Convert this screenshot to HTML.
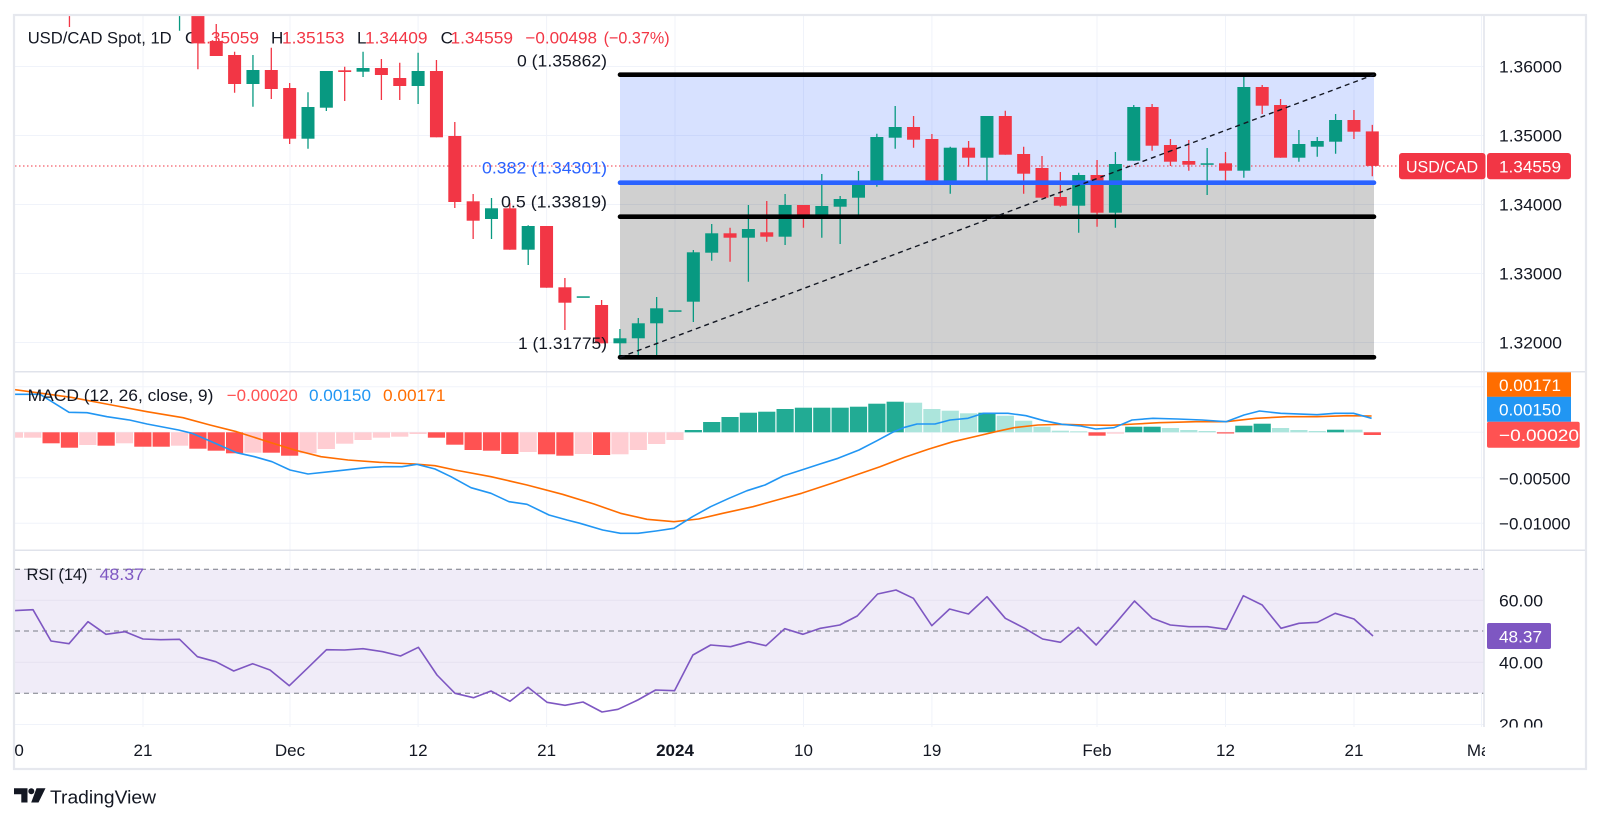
<!DOCTYPE html>
<html><head><meta charset="utf-8"><style>
html,body{margin:0;padding:0;background:#fff;}
svg{display:block;font-family:"Liberation Sans",Arial,sans-serif;}
</style></head><body>
<svg width="1601" height="823" viewBox="0 0 1601 823" xmlns="http://www.w3.org/2000/svg">
<defs>
<clipPath id="cp"><rect x="15" y="15" width="1469" height="356"/></clipPath>
<clipPath id="cm"><rect x="15" y="372.5" width="1469" height="177"/></clipPath>
<clipPath id="cr"><rect x="15" y="551" width="1469" height="176"/></clipPath>
<clipPath id="cd"><rect x="15" y="729" width="1470" height="38"/></clipPath>
<clipPath id="cra"><rect x="1485" y="551" width="100" height="176.5"/></clipPath>
</defs>
<rect width="1601" height="823" fill="#fff"/>

<!-- vertical grid -->
<g stroke="#f0f3fa" stroke-width="1">
<path d="M143 15V727M290 15V727M418.1 15V727M546.6 15V727M675 15V727M803.5 15V727M931.9 15V727M1097 15V727M1225.5 15V727M1354 15V727M1481.5 15V727"/>
</g>
<!-- horizontal grid -->
<g stroke="#f0f3fa" stroke-width="1">
<path d="M15 66.5H1484M15 135.5H1484M15 204.5H1484M15 273.5H1484M15 342.5H1484"/>
<path d="M15 386.8H1484M15 432.3H1484M15 477.8H1484M15 523.3H1484"/>
<path d="M15 600.3H1484M15 662.3H1484M15 724.5H1484"/>
</g>

<!-- PRICE PANE -->
<g clip-path="url(#cp)">
<rect x="620" y="74.7" width="754" height="108" fill="rgb(41,98,255)" fill-opacity="0.19"/>
<rect x="620" y="182.7" width="754" height="174.6" fill="#000" fill-opacity="0.185"/>
<line x1="15" y1="166" x2="1399" y2="166" stroke="#f23645" stroke-width="1" stroke-dasharray="1.5 2.5"/>
</g>

<!-- header text (under candles) -->
<g font-size="17" fill="#131722">
<text x="27.7" y="43.5" textLength="144" lengthAdjust="spacingAndGlyphs">USD/CAD Spot, 1D</text>
<text x="185" y="43.5">O</text>
<text x="196.5" y="43.5" fill="#f23645" textLength="62.5" lengthAdjust="spacingAndGlyphs">1.35059</text>
<text x="271" y="43.5">H</text>
<text x="282" y="43.5" fill="#f23645" textLength="62.5" lengthAdjust="spacingAndGlyphs">1.35153</text>
<text x="357" y="43.5">L</text>
<text x="365" y="43.5" fill="#f23645" textLength="62.5" lengthAdjust="spacingAndGlyphs">1.34409</text>
<text x="440.6" y="43.5">C</text>
<text x="450.5" y="43.5" fill="#f23645" textLength="62.5" lengthAdjust="spacingAndGlyphs">1.34559</text>
<text x="525.4" y="43.5" fill="#f23645" textLength="71.6" lengthAdjust="spacingAndGlyphs">−0.00498</text>
<text x="603.6" y="43.5" fill="#f23645" textLength="66" lengthAdjust="spacingAndGlyphs">(−0.37%)</text>
</g>

<g clip-path="url(#cp)">
<!-- green candles -->
<path stroke="#089981" stroke-width="1.3" fill="none" d="M179.55 10V30.7M252.95 55V106.7M308 92.3V148.7M326.35 71V111M363.05 51.7V77M418.1 52.7V104M491.5 198V239M528.2 225.3V265M619.95 329V358M638.3 318V356.7M656.65 297V358M693.35 250V322M711.7 224V260.7M748.4 205V281.7M785.1 194V245M821.8 174V237.7M840.15 196V244M858.5 171V216.7M876.85 133.7V186.7M895.2 106V148.7M950.25 146.7V193.7M986.95 116V183.3M1078.7 172.7V232.7M1115.4 152V227.7M1133.75 105V160.7M1207.15 148V195M1243.85 75V177.7M1298.9 130V161.7M1317.25 137V156.7M1335.6 114V153.7"/>
<g fill="#089981">
<rect x="246.45" y="70" width="13" height="14"/>
<rect x="301.5" y="107" width="13" height="31.7"/>
<rect x="319.85" y="71" width="13" height="36.7"/>
<rect x="356.55" y="68" width="13" height="3.7"/>
<rect x="411.6" y="71" width="13" height="15"/>
<rect x="485" y="208.3" width="13" height="10.7"/>
<rect x="521.7" y="226" width="13" height="23.7"/>
<rect x="576.75" y="296.3" width="13" height="1.5"/>
<rect x="613.45" y="338.3" width="13" height="5"/>
<rect x="631.8" y="323.3" width="13" height="15"/>
<rect x="650.15" y="308.3" width="13" height="15"/>
<rect x="668.5" y="310.3" width="13" height="1.5"/>
<rect x="686.85" y="252.3" width="13" height="49.4"/>
<rect x="705.2" y="233.3" width="13" height="19.4"/>
<rect x="741.9" y="229" width="13" height="8.7"/>
<rect x="778.6" y="205" width="13" height="31.7"/>
<rect x="815.3" y="206" width="13" height="13"/>
<rect x="833.65" y="199" width="13" height="7.7"/>
<rect x="852" y="183.3" width="13" height="14.4"/>
<rect x="870.35" y="137" width="13" height="47"/>
<rect x="888.7" y="127" width="13" height="10.7"/>
<rect x="943.75" y="147.7" width="13" height="37.3"/>
<rect x="980.45" y="116" width="13" height="41.7"/>
<rect x="1072.2" y="175" width="13" height="30.7"/>
<rect x="1108.9" y="164" width="13" height="48.7"/>
<rect x="1127.25" y="107" width="13" height="53.7"/>
<rect x="1200.65" y="163.3" width="13" height="1.5"/>
<rect x="1237.35" y="87" width="13" height="83.7"/>
<rect x="1292.4" y="144" width="13" height="13.7"/>
<rect x="1310.75" y="141" width="13" height="5.7"/>
<rect x="1329.1" y="120" width="13" height="21.7"/>
</g>
<!-- red candles -->
<path stroke="#f23645" stroke-width="1.3" fill="none" d="M69.45 10V27M197.9 10V69.3M216.25 24V56M234.6 51.7V92.7M271.3 47.7V99M289.65 83V144M344.7 66.7V101M381.4 59V100M399.75 62.7V100M436.45 60V137.3M454.8 122V208M473.15 194V239M509.85 202.7V249.7M546.55 226V287.7M564.9 278V330M601.6 300V343.3M730.05 227.7V261.7M766.75 201V241.7M803.45 205V227.7M913.55 116V147.7M931.9 134V183.7M968.6 141V166.7M1005.3 110.7V154.7M1023.65 146.7V193.7M1042 156V197.7M1060.35 172V206.7M1097.05 160V226.7M1152.1 104V150.7M1170.45 139V166M1188.8 140V170.7M1225.5 152V182.7M1262.2 85V114M1280.55 99V157.7M1353.95 110V139M1372.3 124.9V176.3"/>
<g fill="#f23645">
<rect x="191.4" y="0" width="13" height="43.3"/>
<rect x="209.75" y="41" width="13" height="15"/>
<rect x="228.1" y="55" width="13" height="29"/>
<rect x="264.8" y="70" width="13" height="19"/>
<rect x="283.15" y="88" width="13" height="50.7"/>
<rect x="338.2" y="70.3" width="13" height="1.7"/>
<rect x="374.9" y="68" width="13" height="7"/>
<rect x="393.25" y="78" width="13" height="8"/>
<rect x="429.95" y="71" width="13" height="66.3"/>
<rect x="448.3" y="136" width="13" height="66"/>
<rect x="466.65" y="201.3" width="13" height="19.4"/>
<rect x="503.35" y="208.3" width="13" height="41.4"/>
<rect x="540.05" y="226" width="13" height="61.7"/>
<rect x="558.4" y="287.3" width="13" height="15.4"/>
<rect x="595.1" y="305" width="13" height="38.3"/>
<rect x="723.55" y="233.3" width="13" height="4.4"/>
<rect x="760.25" y="232.3" width="13" height="4.4"/>
<rect x="796.95" y="205" width="13" height="14"/>
<rect x="907.05" y="127" width="13" height="12.7"/>
<rect x="925.4" y="139" width="13" height="44.7"/>
<rect x="962.1" y="147.7" width="13" height="10"/>
<rect x="998.8" y="116" width="13" height="38.7"/>
<rect x="1017.15" y="154" width="13" height="19.7"/>
<rect x="1035.5" y="168" width="13" height="29.7"/>
<rect x="1053.85" y="197" width="13" height="8.7"/>
<rect x="1090.55" y="175" width="13" height="37.7"/>
<rect x="1145.6" y="107" width="13" height="38.7"/>
<rect x="1163.95" y="145" width="13" height="16.7"/>
<rect x="1182.3" y="161" width="13" height="3.7"/>
<rect x="1219" y="163.3" width="13" height="7.4"/>
<rect x="1255.7" y="87" width="13" height="18.7"/>
<rect x="1274.05" y="105" width="13" height="52.7"/>
<rect x="1347.45" y="120" width="13" height="11.7"/>
<rect x="1365.8" y="131.4" width="13" height="34.5"/>
</g>
<!-- fib lines -->
<g stroke-linecap="round" stroke-width="4.6" fill="none">
<line x1="620" y1="74.7" x2="1374" y2="74.7" stroke="#000"/>
<line x1="620" y1="182.7" x2="1374" y2="182.7" stroke="#2962ff"/>
<line x1="620" y1="216.7" x2="1374" y2="216.7" stroke="#000"/>
<line x1="620" y1="357.3" x2="1374" y2="357.3" stroke="#000"/>
</g>
<line x1="620" y1="357.3" x2="1374" y2="74.7" stroke="#131722" stroke-width="1.4" stroke-dasharray="5 4"/>
</g>

<!-- fib labels -->
<g font-size="17" fill="#131722">
<text x="517" y="66.5" textLength="90" lengthAdjust="spacingAndGlyphs">0 (1.35862)</text>
<text x="482" y="173.5" fill="#2962ff" textLength="125" lengthAdjust="spacingAndGlyphs">0.382 (1.34301)</text>
<text x="501" y="207.5" textLength="106" lengthAdjust="spacingAndGlyphs">0.5 (1.33819)</text>
<text x="518" y="349" textLength="89" lengthAdjust="spacingAndGlyphs">1 (1.31775)</text>
</g>

<!-- MACD PANE -->
<g clip-path="url(#cm)">
<g fill="#ffcdd2">
<rect x="5.8" y="432.3" width="17.2" height="5.4"/>
<rect x="24.15" y="432.3" width="17.2" height="5.4"/>
<rect x="79.2" y="432.3" width="17.2" height="12.7"/>
<rect x="115.9" y="432.3" width="17.2" height="11"/>
<rect x="170.95" y="432.3" width="17.2" height="13.4"/>
<rect x="244.35" y="432.3" width="17.2" height="20.4"/>
<rect x="299.4" y="432.3" width="17.2" height="21"/>
<rect x="317.75" y="432.3" width="17.2" height="16.7"/>
<rect x="336.1" y="432.3" width="17.2" height="11.4"/>
<rect x="354.45" y="432.3" width="17.2" height="7.7"/>
<rect x="372.8" y="432.3" width="17.2" height="5.4"/>
<rect x="391.15" y="432.3" width="17.2" height="4.4"/>
<rect x="409.5" y="432.3" width="17.2" height="1.7"/>
<rect x="519.6" y="432.3" width="17.2" height="19.7"/>
<rect x="574.65" y="432.3" width="17.2" height="21.7"/>
<rect x="611.35" y="432.3" width="17.2" height="22"/>
<rect x="629.7" y="432.3" width="17.2" height="17.7"/>
<rect x="648.05" y="432.3" width="17.2" height="11.7"/>
<rect x="666.4" y="432.3" width="17.2" height="7.7"/>
<rect x="1106.8" y="432.3" width="17.2" height="1.4"/>
</g>
<g fill="#ff5252">
<rect x="42.5" y="432.3" width="17.2" height="11"/>
<rect x="60.85" y="432.3" width="17.2" height="15.4"/>
<rect x="97.55" y="432.3" width="17.2" height="13.4"/>
<rect x="134.25" y="432.3" width="17.2" height="14.4"/>
<rect x="152.6" y="432.3" width="17.2" height="14.4"/>
<rect x="189.3" y="432.3" width="17.2" height="16.4"/>
<rect x="207.65" y="432.3" width="17.2" height="18.4"/>
<rect x="226" y="432.3" width="17.2" height="21"/>
<rect x="262.7" y="432.3" width="17.2" height="20.4"/>
<rect x="281.05" y="432.3" width="17.2" height="23.4"/>
<rect x="427.85" y="432.3" width="17.2" height="5.4"/>
<rect x="446.2" y="432.3" width="17.2" height="12.4"/>
<rect x="464.55" y="432.3" width="17.2" height="17.7"/>
<rect x="482.9" y="432.3" width="17.2" height="18.4"/>
<rect x="501.25" y="432.3" width="17.2" height="21.7"/>
<rect x="537.95" y="432.3" width="17.2" height="22"/>
<rect x="556.3" y="432.3" width="17.2" height="23.4"/>
<rect x="593" y="432.3" width="17.2" height="22.7"/>
<rect x="1088.45" y="432.3" width="17.2" height="3.4"/>
<rect x="1216.9" y="432.3" width="17.2" height="1.2"/>
<rect x="1363.7" y="432.3" width="17.2" height="2.7"/>
</g>
<g fill="#22ab94">
<rect x="684.75" y="430" width="17.2" height="2.3"/>
<rect x="703.1" y="422" width="17.2" height="10.3"/>
<rect x="721.45" y="417" width="17.2" height="15.3"/>
<rect x="739.8" y="412.7" width="17.2" height="19.6"/>
<rect x="758.15" y="411.7" width="17.2" height="20.6"/>
<rect x="776.5" y="409" width="17.2" height="23.3"/>
<rect x="794.85" y="407.7" width="17.2" height="24.6"/>
<rect x="813.2" y="407.7" width="17.2" height="24.6"/>
<rect x="831.55" y="407.7" width="17.2" height="24.6"/>
<rect x="849.9" y="406.7" width="17.2" height="25.6"/>
<rect x="868.25" y="403.7" width="17.2" height="28.6"/>
<rect x="886.6" y="401.7" width="17.2" height="30.6"/>
<rect x="978.35" y="412.7" width="17.2" height="19.6"/>
<rect x="1125.15" y="426.7" width="17.2" height="5.6"/>
<rect x="1143.5" y="426.7" width="17.2" height="5.6"/>
<rect x="1235.25" y="425.7" width="17.2" height="6.6"/>
<rect x="1253.6" y="423.7" width="17.2" height="8.6"/>
<rect x="1327" y="429.7" width="17.2" height="2.6"/>
</g>
<g fill="#ace5dc">
<rect x="904.95" y="402.7" width="17.2" height="29.6"/>
<rect x="923.3" y="409" width="17.2" height="23.3"/>
<rect x="941.65" y="410.7" width="17.2" height="21.6"/>
<rect x="960" y="413.3" width="17.2" height="19"/>
<rect x="996.7" y="415.7" width="17.2" height="16.6"/>
<rect x="1015.05" y="420.7" width="17.2" height="11.6"/>
<rect x="1033.4" y="426.7" width="17.2" height="5.6"/>
<rect x="1051.75" y="430.7" width="17.2" height="1.6"/>
<rect x="1070.1" y="431.3" width="17.2" height="1"/>
<rect x="1161.85" y="428" width="17.2" height="4.3"/>
<rect x="1180.2" y="430" width="17.2" height="2.3"/>
<rect x="1198.55" y="431" width="17.2" height="1.3"/>
<rect x="1271.95" y="428" width="17.2" height="4.3"/>
<rect x="1290.3" y="430" width="17.2" height="2.3"/>
<rect x="1308.65" y="431" width="17.2" height="1.3"/>
<rect x="1345.35" y="429.7" width="17.2" height="2.6"/>
</g>
<polyline fill="none" stroke="#ff6d00" stroke-width="1.6" stroke-linejoin="round" points="10,389 71,397.3 111.6,405 147,411.7 183,417.7 210,425 236.6,431.7 268,441.7 294.6,450 321,456.7 348,460 379.5,462.3 415,464 435,465.7 455,470 491,476.7 527,485 562.5,494.3 594,504 620.5,513.3 647,519.3 674,521.7 698.5,519 722.8,513.3 753,506.7 777,500 801.6,493.3 832,483.3 856,475 880,466.7 904.7,457.3 929,449 953,441.7 977.5,436 995.7,431.7 1014,427.7 1038,425 1062,424.3 1086.6,425 1111,425.3 1135,424 1159,422.7 1196,421.7 1226,421.7 1256,418.3 1287,416.7 1317,416.7 1347,415.7 1371.6,416"/>
<polyline fill="none" stroke="#2196f3" stroke-width="1.6" stroke-linejoin="round" points="10,394.3 40,394.3 69,412.3 87,412.7 107,416.7 129.5,420 147,424 178.6,430 192,433.3 210,441 236.6,452.7 254.5,456.7 272,461.7 290,470 308,474 339,470.7 366,467.7 384,466.7 402,466.7 417,464.3 435,469 451,476.7 471,487.7 491,493.3 509,501.7 527,504.3 549,515 567,520 580,523.3 602.7,530 620.5,533.3 638,533.3 656,531 674,528.3 692.5,516.7 710.6,506.7 729,498.3 747,490.7 765,485 783,476 801.6,470 820,464 838,458.3 859,450 877,440.7 892.6,432.3 904.7,427.3 917,424 935,424 950,420 968,418.3 983.5,413.3 1008,413.3 1026,415.7 1044,420.7 1062,424.3 1080.6,426 1095.7,429 1114,427.7 1132,420 1153,418.3 1177.6,419 1202,420 1226,421.7 1244,415 1259.5,411 1280.7,413.3 1317,414.7 1335,413.3 1353.5,413.3 1371.6,418.3"/>
</g>
<g font-size="17">
<text x="27.7" y="401" fill="#131722" textLength="185.7" lengthAdjust="spacingAndGlyphs">MACD (12, 26, close, 9)</text>
<text x="226.8" y="401" fill="#ff5252" textLength="71" lengthAdjust="spacingAndGlyphs">−0.00020</text>
<text x="309" y="401" fill="#2196f3" textLength="62" lengthAdjust="spacingAndGlyphs">0.00150</text>
<text x="383" y="401" fill="#ff6d00" textLength="62.5" lengthAdjust="spacingAndGlyphs">0.00171</text>
</g>

<!-- RSI PANE -->
<g clip-path="url(#cr)">
<rect x="15" y="569.3" width="1469" height="124" fill="#f0ecf8"/>
<path d="M15 600.3H1484M15 662.3H1484" stroke="#e6e2f0" stroke-width="1"/>
<g stroke="#787b86" stroke-width="1" stroke-dasharray="5 4">
<line x1="15" y1="569.3" x2="1484" y2="569.3"/>
<line x1="15" y1="631" x2="1484" y2="631"/>
<line x1="15" y1="693.3" x2="1484" y2="693.3"/>
</g>
<polyline fill="none" stroke="#7e57c2" stroke-width="1.6" stroke-linejoin="round" points="12,610.7 33,609.7 51,641 69,643.7 88,621.7 106,634.3 125,631.7 143,639 160.7,639.7 179.6,639.3 197.4,656.7 215.8,661.7 233.7,671 252.6,663.7 270,670 289.3,685.7 308,667.7 326.5,649.7 344.4,650 363,648.7 382.7,651.7 400.5,656 418.4,647.3 437,675 455,693.3 473.5,697.7 491,691 510,701.3 528,687.3 547,702.3 565,705.3 583,702 602,712 618,709.3 637.8,700 655.6,690 674.5,690.7 692.9,655 710.7,645 730.6,646.7 748.5,641.7 766,645.7 784.7,628.7 803,634.3 820.4,628.3 839.8,625 857.2,616 877.6,594 896,590 913.4,598.3 931.8,625.7 949.6,609 968.5,614 987,596.7 1005.3,618.3 1024.7,628.3 1042.6,639 1060.5,642.3 1078.3,627.3 1096.2,645 1115.6,623.3 1134.5,601 1152.4,618.3 1170.3,625 1189,626.7 1207.6,626.7 1226.5,629.3 1243.3,595.7 1262.2,605 1281,628.3 1299,623.3 1317.4,622.3 1335.2,613.3 1354,619 1373,636"/>
</g>
<g font-size="17">
<text x="26.5" y="580" fill="#131722" textLength="61" lengthAdjust="spacingAndGlyphs">RSI (14)</text>
<text x="99.5" y="580" fill="#7e57c2" textLength="44.5" lengthAdjust="spacingAndGlyphs">48.37</text>
</g>

<!-- separators / frame -->
<g stroke="#e0e3eb" stroke-width="1.5" fill="none">
<line x1="14" y1="371.7" x2="1586" y2="371.7"/>
<line x1="14" y1="550.3" x2="1586" y2="550.3"/>
<line x1="1484" y1="15" x2="1484" y2="727"/>
</g>
<rect x="14" y="15" width="1572" height="754" fill="none" stroke="#e6e8ee" stroke-width="2.2"/>

<!-- right axis: price -->
<g font-size="17" fill="#131722">
<text x="1499" y="72.5" textLength="63" lengthAdjust="spacingAndGlyphs">1.36000</text>
<text x="1499" y="141.5" textLength="63" lengthAdjust="spacingAndGlyphs">1.35000</text>
<text x="1499" y="210.5" textLength="63" lengthAdjust="spacingAndGlyphs">1.34000</text>
<text x="1499" y="279.5" textLength="63" lengthAdjust="spacingAndGlyphs">1.33000</text>
<text x="1499" y="348.5" textLength="63" lengthAdjust="spacingAndGlyphs">1.32000</text>
<text x="1499" y="484.3" textLength="71.5" lengthAdjust="spacingAndGlyphs">−0.00500</text>
<text x="1499" y="529.3" textLength="71.5" lengthAdjust="spacingAndGlyphs">−0.01000</text>
</g>
<g font-size="17" fill="#131722" clip-path="url(#cra)">
<text x="1499" y="606.7" textLength="44" lengthAdjust="spacingAndGlyphs">60.00</text>
<text x="1499" y="668.7" textLength="44" lengthAdjust="spacingAndGlyphs">40.00</text>
<text x="1499" y="730.5" textLength="44" lengthAdjust="spacingAndGlyphs">20.00</text>
</g>

<!-- price label boxes -->
<rect x="1399" y="153" width="86.5" height="26.3" rx="3" fill="#f23645"/>
<rect x="1487" y="153" width="84" height="26.3" rx="3" fill="#f23645"/>
<g font-size="17" fill="#fff">
<text x="1406" y="172.3" textLength="72" lengthAdjust="spacingAndGlyphs">USD/CAD</text>
<text x="1499" y="172.3" textLength="62" lengthAdjust="spacingAndGlyphs">1.34559</text>
</g>
<rect x="1487" y="372.3" width="84" height="24.6" fill="#ff6d00"/>
<rect x="1487" y="396.8" width="84" height="25" fill="#2196f3"/>
<rect x="1487" y="421.7" width="92.7" height="26" rx="2" fill="#ff5252"/>
<g font-size="17" fill="#fff">
<text x="1499" y="390.8" textLength="62" lengthAdjust="spacingAndGlyphs">0.00171</text>
<text x="1499" y="415.3" textLength="62" lengthAdjust="spacingAndGlyphs">0.00150</text>
<text x="1499" y="441" textLength="80" lengthAdjust="spacingAndGlyphs">−0.00020</text>
</g>
<rect x="1487" y="623" width="64" height="26" rx="2" fill="#7e57c2"/>
<text x="1499" y="642.3" font-size="17" fill="#fff" textLength="43" lengthAdjust="spacingAndGlyphs">48.37</text>

<!-- date axis -->
<g font-size="17" fill="#131722" text-anchor="middle" clip-path="url(#cd)">
<text x="14.4" y="756">10</text>
<text x="143" y="756">21</text>
<text x="290" y="756">Dec</text>
<text x="418.1" y="756">12</text>
<text x="546.6" y="756">21</text>
<text x="675" y="756" font-weight="bold">2024</text>
<text x="803.5" y="756">10</text>
<text x="931.9" y="756">19</text>
<text x="1097" y="756">Feb</text>
<text x="1225.5" y="756">12</text>
<text x="1354" y="756">21</text>
<text x="1481.5" y="756">Mar</text>
</g>

<!-- TradingView logo -->
<g fill="#131722">
<path d="M14 788.3h13.5v14.2h-6.2v-8.2h-7.3z"/>
<circle cx="31.3" cy="791.3" r="3"/>
<path d="M36.5 788.3h9l-7 14.2h-7.3z"/>
</g>
<text x="50" y="803.5" font-size="18.5" fill="#131722" textLength="106" lengthAdjust="spacingAndGlyphs">TradingView</text>
</svg>
</body></html>
